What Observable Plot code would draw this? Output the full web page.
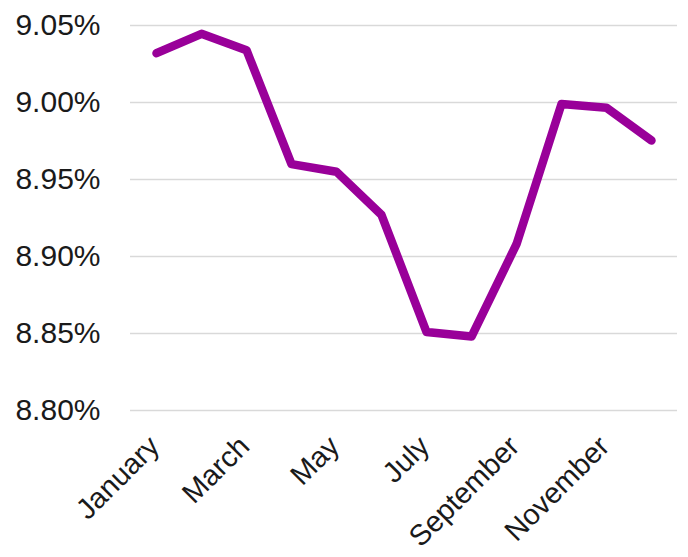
<!DOCTYPE html>
<html>
<head>
<meta charset="utf-8">
<script src="https://cdn.jsdelivr.net/npm/d3@7"></script>
<script src="https://cdn.jsdelivr.net/npm/@observablehq/plot@0.6"></script>
<style>
  html, body { margin: 0; padding: 0; background: #fff; }
  #chart { width: 688px; height: 557px; }
</style>
</head>
<body>
<div id="chart"></div>
<script>
const months = ["January","February","March","April","May","June","July","August","September","October","November","December"];
const rates = [9.032, 9.0446, 9.034, 8.960, 8.955, 8.927, 8.851, 8.848, 8.908, 8.999, 8.9966, 8.9753];
const yTicks = [8.80, 8.85, 8.90, 8.95, 9.00, 9.05];
const xTickLabels = ["January","March","May","July","September","November"];

const data = months.map((m, i) => ({month: m, rate: rates[i]}));

const chart = Plot.plot({
  width: 688,
  height: 557,
  marginLeft: 130,
  marginRight: 11,
  marginTop: 25,
  marginBottom: 147,
  style: {fontFamily: "'Liberation Sans', Arial, sans-serif", fontSize: "30px", color: "#1a1a1a", background: "#fff"},
  x: {type: "point", domain: months, padding: 0.5},
  y: {domain: [8.80, 9.05]},
  marks: [
    Plot.gridY(yTicks, {stroke: "#d9d9d9", strokeOpacity: 1, strokeWidth: 1.5}),
    Plot.axisY({ticks: yTicks, tickSize: 0, tickPadding: 30, tickFormat: d => d.toFixed(2) + "%", label: null, fontSize: 30}),
    Plot.axisX({ticks: xTickLabels, tickSize: 0, tickRotate: -45, tickPadding: 31, dx: -2, label: null, fontSize: 29}),
    Plot.line(data, {x: "month", y: "rate", stroke: "#990099", strokeWidth: 8.5, strokeLinecap: "round", strokeLinejoin: "round"})
  ]
});
document.getElementById("chart").appendChild(chart);
</script>
</body>
</html>
